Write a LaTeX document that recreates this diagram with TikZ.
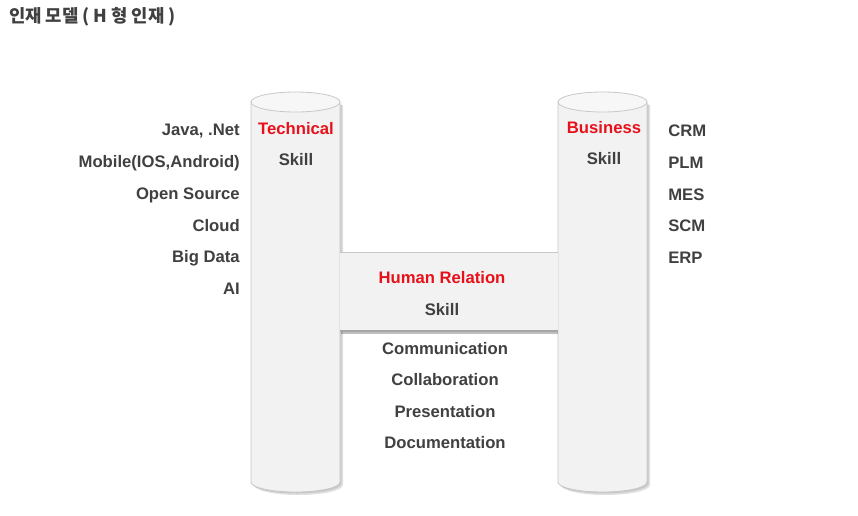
\documentclass[tikz,border=0pt]{standalone}
\usepackage{fontspec}
\setmainfont{Liberation Sans}
\newfontfamily\krfont{Noto Sans CJK KR}
\definecolor{txt}{HTML}{404040}
\definecolor{redt}{HTML}{E8101A}
\definecolor{cylfill}{HTML}{F2F2F2}
\definecolor{cyltop}{HTML}{F7F7F7}
\definecolor{cyledge}{HTML}{C8C8C8}
\tikzset{
  lbl/.style={font=\fontsize{12.5pt}{14pt}\selectfont\bfseries, text=txt, inner sep=0pt},
  redlbl/.style={lbl, text=redt},
  cylbody/.style={fill=cylfill, draw=cyledge, line width=0.6pt},
  cylshadow/.style={fill=black},
  band/.style={fill=cylfill, draw=none},
}
\begin{document}
\begin{tikzpicture}[x=0.75pt,y=-0.75pt]
\useasboundingbox (0,0) rectangle (858,515);
\fill[white] (0,0) rectangle (858,515);
% title
\node[anchor=west, inner sep=0pt, text=txt, font=\krfont\fontsize{13.3pt}{15pt}\selectfont\bfseries] (title) at (9,17) {인재 모델 ( H 형 인재 )};
% shadows of cylinders
\foreach \xl/\xr in {251/340, 558/647}{
  \fill[cylshadow, opacity=0.12] (\xl+3,102+3) -- (\xl+3,482+3) arc[start angle=180,end angle=0,x radius=44.5,y radius=10] -- (\xr+3,102+3) -- cycle;
  \fill[cylshadow, opacity=0.10] (\xl+1.5,102+1.5) -- (\xl+1.5,482+1.5) arc[start angle=180,end angle=0,x radius=44.5,y radius=10] -- (\xr+1.5,102+1.5) -- cycle;
}
% cylinders
\foreach \xl/\xr in {251/340, 558/647}{
  \path[cylbody] (\xl,102) -- (\xl,482) arc[start angle=180,end angle=0,x radius=44.5,y radius=10] -- (\xr,102) -- cycle;
  \path[fill=cyltop, draw=cyledge, line width=0.6pt] ({(\xl+\xr)/2},102) ellipse[x radius=44.5,y radius=10];
}
% middle band with shadow
\fill[black, opacity=0.25] (341,331) rectangle (558,334);
\fill[black, opacity=0.15] (341,252) rectangle (343,331);
\path[band] (340.3,252) rectangle (557.7,331);
\draw[cyledge, line width=0.6pt] (340.3,252) -- (557.7,252);
\draw[gray!70, line width=0.8pt] (340.3,331) -- (557.7,331);
% cylinder labels
\node[redlbl] (tech) at (296,129) {Technical};
\node[lbl] (tskill) at (296,160) {Skill};
\node[redlbl] (bus) at (604,128) {Business};
\node[lbl] (bskill) at (604,159) {Skill};
\node[redlbl] (hr) at (442,278) {Human Relation};
\node[lbl] (hskill) at (442,310) {Skill};
% left list
\node[lbl, anchor=east] (l1) at (240,131) {Java, .Net};
\node[lbl, anchor=east] (l2) at (240,163) {Mobile(IOS,Android)};
\node[lbl, anchor=east] (l3) at (240,195) {Open Source};
\node[lbl, anchor=east] (l4) at (240,226) {Cloud};
\node[lbl, anchor=east] (l5) at (240,258) {Big Data};
\node[lbl, anchor=east] (l6) at (240,289) {AI};
% right list
\node[lbl, anchor=west] (r1) at (668,131) {CRM};
\node[lbl, anchor=west] (r2) at (668,163) {PLM};
\node[lbl, anchor=west] (r3) at (668,195) {MES};
\node[lbl, anchor=west] (r4) at (668,226) {SCM};
\node[lbl, anchor=west] (r5) at (668,258) {ERP};
% bottom list
\node[lbl] (b1) at (445,349) {Communication};
\node[lbl] (b2) at (445,380) {Collaboration};
\node[lbl] (b3) at (445,412) {Presentation};
\node[lbl] (b4) at (445,443) {Documentation};
\end{tikzpicture}
\end{document}
